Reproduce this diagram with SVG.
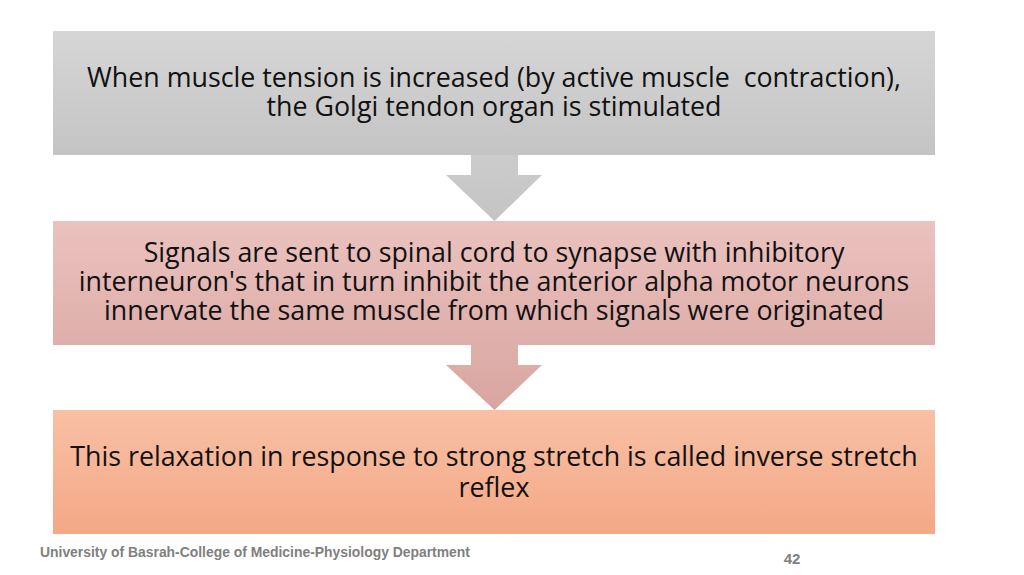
<svg xmlns="http://www.w3.org/2000/svg" width="1024" height="575" viewBox="0 0 1024 575">
<style>
.t{font-family:"Open Sans","Noto Sans",sans-serif;font-size:26.8px;fill:#111;text-anchor:middle}
.f{font-family:"Liberation Sans",Arial,sans-serif;font-weight:bold;fill:#7f7f7f}
</style>
<defs>
<linearGradient id="g1" x1="0" y1="0" x2="0" y2="1"><stop offset="0" stop-color="#d6d6d6"/><stop offset="1" stop-color="#c4c4c4"/></linearGradient>
<linearGradient id="g2" x1="0" y1="0" x2="0" y2="1"><stop offset="0" stop-color="#ebc2bf"/><stop offset="1" stop-color="#deaeaa"/></linearGradient>
<linearGradient id="g3" x1="0" y1="0" x2="0" y2="1"><stop offset="0" stop-color="#f8c0a5"/><stop offset="1" stop-color="#f4a886"/></linearGradient>
<linearGradient id="a1" x1="0" y1="0" x2="0" y2="1"><stop offset="0" stop-color="#cccccc"/><stop offset="1" stop-color="#c4c4c4"/></linearGradient>
<linearGradient id="a2" x1="0" y1="0" x2="0" y2="1"><stop offset="0" stop-color="#deb0ab"/><stop offset="1" stop-color="#d9a49f"/></linearGradient>
</defs>
<rect width="1024" height="575" fill="#fff"/>
<g id="connectors">
<path d="M471 155H518V175H542L494.5 221L446 175H471Z" fill="url(#a1)"/>
<path d="M471 345H518V365H542L494.5 410L446 365H471Z" fill="url(#a2)"/>
</g>
<g id="n1"><rect x="53" y="31" width="882" height="124" fill="url(#g1)"/>
<text class="t" x="494" y="87" xml:space="preserve">When muscle tension is increased (by active muscle  contraction),</text>
<text class="t" x="494" y="116">the Golgi tendon organ is stimulated</text></g>
<g id="n2"><rect x="53" y="221" width="882" height="124" fill="url(#g2)"/>
<text class="t" x="494" y="262">Signals are sent to spinal cord to synapse with inhibitory</text>
<text class="t" x="494" y="291">interneuron's that in turn inhibit the anterior alpha motor neurons</text>
<text class="t" x="494" y="320">innervate the same muscle from which signals were originated</text></g>
<g id="n3"><rect x="53" y="410" width="882" height="124" fill="url(#g3)"/>
<text class="t" x="494" y="466">This relaxation in response to strong stretch is called inverse stretch</text>
<text class="t" x="494" y="497">reflex</text></g>
<text class="f" x="40" y="557" font-size="13.9">University of Basrah-College of Medicine-Physiology Department</text>
<text class="f" x="792" y="564" font-size="15" text-anchor="middle">42</text>
</svg>
